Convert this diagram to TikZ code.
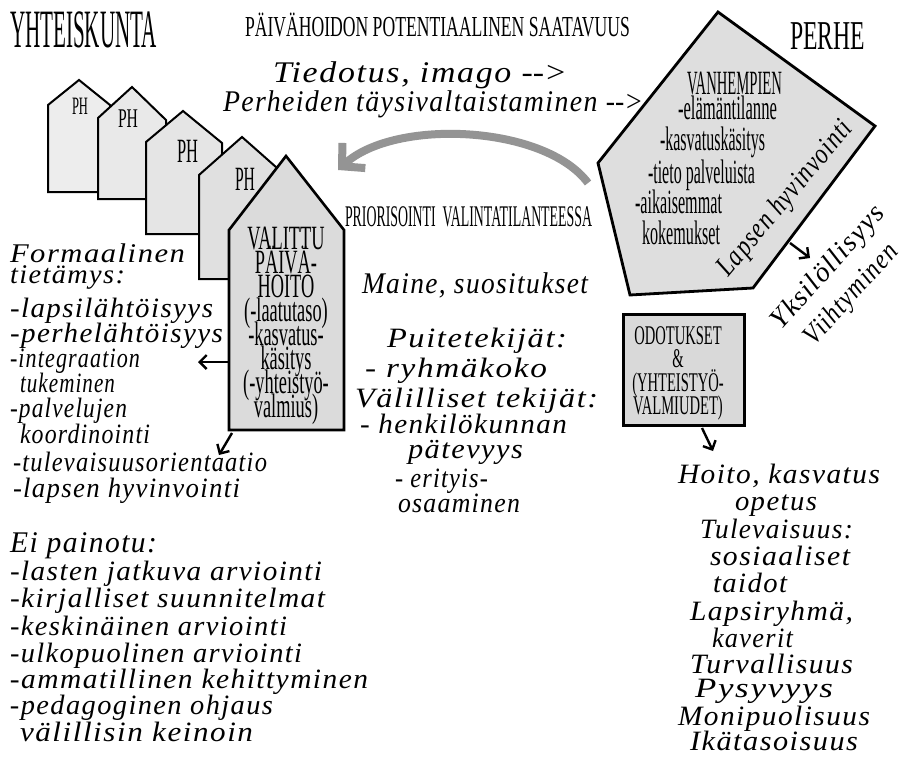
\documentclass[tikz,border=0pt]{standalone}
\usepackage{fontspec}
\usepackage{graphicx}
\setmainfont{Liberation Serif}
\newfontfamily\cnd[FakeStretch=0.54]{Liberation Serif}
\newfontfamily\scrf[LetterSpace=5]{Liberation Serif}
\usetikzlibrary{arrows.meta}
% set a line of text to an exact width, keeping its height
\newcommand\fitw[2]{\resizebox{#1pt}{\height}{#2}}
\newcommand\arr{-\kern0pt-\kern0pt>}
% let lines sit closer than their glyphs would allow
\newcommand\tightls{\setlength{\lineskiplimit}{-50pt}\setlength{\lineskip}{0pt}}

\tikzset{
  house/.style={draw=black, line width=2pt, line join=miter, fill=#1},
  lbl/.style={anchor=base west, inner sep=0pt, outer sep=0pt},
  capt/.style={lbl, font=\fontsize{#1}{#1}\selectfont},
  scr/.style={lbl, font=\scrf\itshape\fontsize{#1}{#1}\selectfont},
  scr/.default=28,
  ptr/.style={line width=2.4pt, line cap=butt, -{Straight Barb[length=7pt,width=14pt]}},
}

\begin{document}
\begin{tikzpicture}[x=1pt,y=-1pt]
\useasboundingbox (0,0) rectangle (902,757);
\fill[white] (0,0) rectangle (902,757);

% headings
\node[capt=54] (yht) at (10,48) {\fitw{147}{YHTEISKUNTA}};
\node[capt=29] (pot) at (245,37) {\fitw{385}{PÄIVÄHOIDON POTENTIAALINEN SAATAVUUS}};
\node[capt=41] (perhe) at (790,50) {\fitw{75}{PERHE}};

% row of day-care houses
\draw[house=gray!14] (48,192) -- (48,105) -- (79,80) -- (110,105) -- (110,192) -- cycle;
\node[capt=25] (ph1) at (72,115) {\fitw{16}{PH}};
\draw[house=gray!17] (98,199) -- (98,118) -- (132,87) -- (166,120) -- (166,199) -- cycle;
\node[capt=27] (ph2) at (118,128) {\fitw{20}{PH}};
\draw[house=gray!20] (146,234) -- (146,142) -- (183,111) -- (222,143) -- (222,234) -- cycle;
\node[capt=34] (ph3) at (177,163) {\fitw{21}{PH}};
\draw[house=gray!24] (199,279) -- (199,175) -- (242,137) -- (285,175) -- (285,279) -- cycle;
\node[capt=34] (ph4) at (235,190) {\fitw{20}{PH}};
\draw[house=gray!28, line width=2.6pt] (229,430) -- (229,230) -- (286,156) -- (344,230) -- (344,430) -- cycle;
\node[anchor=north, inner sep=0pt, align=center,
      font=\cnd\fontsize{34}{24}\selectfont\tightls] (valittu) at (286,227)
  {VALITTU\\PÄIVÄ-\\HOITO\\(-laatutaso)\\-kasvatus-\\käsitys\\(-yhteistyö-\\valmius)};

% curved grey arrow
\coordinate (gs) at (588,183);
\coordinate (ge) at (338,170);
\draw[line width=8pt, draw=black!42, -{Straight Barb[length=16pt,width=34pt]}]
  (gs) .. controls (545,125) and (395,118) .. (ge);

% lines towards the family
\node[scr=30] (tied) at (273,83) {\fitw{294}{Tiedotus, imago \arr}};
\node[scr=30] (perh) at (223,111) {\fitw{420}{Perheiden täysivaltaistaminen \arr}};

% parents' pentagon
\draw[draw=black, line width=2.8pt, line join=miter, fill=gray!26]
  (718,12) -- (875,126) -- (753,288) -- (630,295) -- (598,163) -- cycle;
\node[capt=34] (p1) at (687,95) {\fitw{95}{VANHEMPIEN}};
\node[capt=34] (p2) at (678,120) {\fitw{99}{-elämäntilanne}};
\node[capt=34] (p3) at (660,150) {\fitw{105}{-kasvatuskäsitys}};
\node[capt=34] (p4) at (648,183) {\fitw{107}{-tieto palveluista}};
\node[capt=34] (p5) at (635,213) {\fitw{87}{-aikaisemmat}};
\node[capt=34] (p6) at (642,244) {\fitw{78}{kokemukset}};
\node[scr=29, anchor=center, rotate=50] (lh) at (786,199) {\fitw{194}{Lapsen hyvinvointi}};

\node[scr=28, anchor=center, rotate=48] (yks) at (829,268) {\fitw{156}{Yksilöllisyys}};
\node[scr=28, anchor=center, rotate=48] (vii) at (852,295) {\fitw{126}{Viihtyminen}};

% middle texts
\node[capt=30] (prio) at (345,226) {\fitw{247}{PRIORISOINTI\ \ VALINTATILANTEESSA}};
\node[scr=30] (maine) at (362,293) {\fitw{226}{Maine, suositukset}};

\node[scr] (m1) at (387,347) {\fitw{180}{Puitetekijät:}};
\node[scr] (m2) at (365,377) {\fitw{182}{- ryhmäkoko}};
\node[scr] (m3) at (355,407) {\fitw{243}{Välilliset tekijät:}};
\node[scr] (m4) at (360,433) {\fitw{207}{- henkilökunnan}};
\node[scr] (m5) at (408,458) {\fitw{115}{pätevyys}};
\node[scr] (m6) at (395,487) {\fitw{93}{- erityis-}};
\node[scr] (m7) at (398,512) {\fitw{122}{osaaminen}};

% left column
\node[scr=27] (f1) at (10,262) {\fitw{175}{Formaalinen}};
\node[scr=27] (f2) at (10,283) {\fitw{115}{tietämys:}};
\node[scr] (f3) at (10,317) {\fitw{203}{-lapsilähtöisyys}};
\node[scr] (f4) at (10,342) {\fitw{213}{-perhelähtöisyys}};
\node[scr] (f5) at (10,367) {\fitw{130}{-integraation}};
\node[scr] (f6) at (20,392) {\fitw{95}{tukeminen}};
\node[scr] (f7) at (10,417) {\fitw{117}{-palvelujen}};
\node[scr] (f8) at (20,443) {\fitw{130}{koordinointi}};
\node[scr] (f9) at (13,471) {\fitw{254}{-tulevaisuusorientaatio}};
\node[scr] (f10) at (13,497) {\fitw{227}{-lapsen hyvinvointi}};

\node[scr=30] (e0) at (10,552) {\fitw{147}{Ei painotu:}};
\node[scr] (e1) at (10,580) {\fitw{312}{-lasten jatkuva arviointi}};
\node[scr] (e2) at (10,607) {\fitw{315}{-kirjalliset suunnitelmat}};
\node[scr] (e3) at (10,635) {\fitw{277}{-keskinäinen arviointi}};
\node[scr] (e4) at (10,662) {\fitw{292}{-ulkopuolinen arviointi}};
\node[scr] (e5) at (10,688) {\fitw{358}{-ammatillinen kehittyminen}};
\node[scr] (e6) at (10,714) {\fitw{263}{-pedagoginen ohjaus}};
\node[scr] (e7) at (20,741) {\fitw{233}{välillisin keinoin}};

% expectations box
\node[draw=black, line width=3pt, fill=gray!30, minimum width=121pt, minimum height=111pt, inner sep=0pt] (odot) at (683.5,369.5) {};
\node[anchor=north, inner sep=0pt, align=center,
      font=\cnd\fontsize{27}{23.5}\selectfont\tightls] (odtxt) at (678,326)
  {ODOTUKSET\\\&\\(YHTEISTYÖ-\\VALMIUDET)};

% right column
\node[scr] (r1) at (678,483) {\fitw{202}{Hoito, kasvatus}};
\node[scr] (r2) at (735,510) {\fitw{82}{opetus}};
\node[scr] (r3) at (700,538) {\fitw{153}{Tulevaisuus:}};
\node[scr] (r4) at (710,565) {\fitw{140}{sosiaaliset}};
\node[scr] (r5) at (713,592) {\fitw{74}{taidot}};
\node[scr] (r6) at (690,620) {\fitw{163}{Lapsiryhmä,}};
\node[scr] (r7) at (712,647) {\fitw{81}{kaverit}};
\node[scr] (r8) at (690,673) {\fitw{163}{Turvallisuus}};
\node[scr] (r9) at (695,697) {\fitw{138}{Pysyvyys}};
\node[scr] (r10) at (678,725) {\fitw{192}{Monipuolisuus}};
\node[scr] (r11) at (690,750) {\fitw{168}{Ikätasoisuus}};

% small pointers
\coordinate (h5w) at (229,362);
\coordinate (h5wt) at (198,362);
\coordinate (h5b) at (232,433);
\coordinate (h5bt) at (219,455);
\coordinate (pb) at (790,243);
\coordinate (pbt) at (810,258);
\coordinate (ob) at (702,428);
\coordinate (obt) at (713,451);
\draw[ptr] (h5w) -- (h5wt);
\draw[ptr] (h5b) -- (h5bt);
\draw[ptr] (pb) -- (pbt);
\draw[ptr] (ob) -- (obt);
\end{tikzpicture}
\end{document}
